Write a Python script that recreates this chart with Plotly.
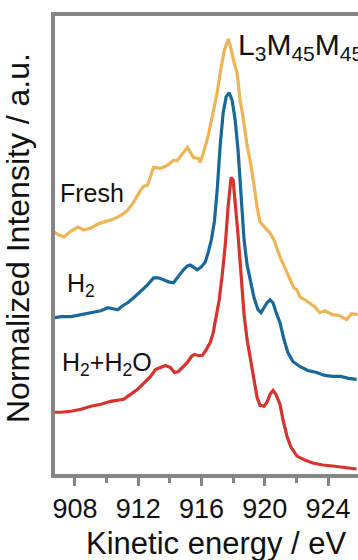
import plotly.graph_objects as go

# ---- data (kinetic energy in eV, normalized intensity, offset-stacked) ----
fresh_energy = [906.68, 906.99, 907.31, 907.75, 908.19, 908.57, 909.01, 909.45, 909.82, 910.26,
                910.70, 911.02, 911.33, 911.71, 912.15, 912.34, 912.59, 912.97, 913.41, 913.85,
                914.23, 914.48, 914.86, 915.11, 915.48, 915.80, 915.92, 916.11, 916.43, 916.74,
                916.99, 917.18, 917.43, 917.69, 917.87, 918.06, 918.25, 918.44, 918.63, 918.88,
                919.07, 919.32, 919.51, 919.70, 919.89, 920.14, 920.33, 920.58, 920.96, 921.27,
                921.58, 921.84, 922.03, 922.21, 922.53, 922.84, 923.16, 923.47, 923.79, 924.29,
                924.73, 925.17, 925.48, 925.86]
fresh_intensity = [2.47, 2.44, 2.42, 2.48, 2.52, 2.49, 2.51, 2.55, 2.57, 2.59,
                   2.62, 2.65, 2.69, 2.77, 2.89, 2.93, 2.94, 3.12, 3.11, 3.14,
                   3.19, 3.19, 3.27, 3.32, 3.22, 3.21, 3.17, 3.26, 3.44, 3.67,
                   3.87, 4.07, 4.29, 4.41, 4.31, 4.17, 4.07, 3.79, 3.62, 3.34,
                   3.19, 2.94, 2.72, 2.57, 2.54, 2.49, 2.46, 2.39, 2.22, 2.11,
                   1.99, 1.91, 1.89, 1.82, 1.79, 1.76, 1.72, 1.66, 1.68, 1.64,
                   1.63, 1.59, 1.65, 1.64]

h2_energy = [906.68, 907.12, 907.75, 908.38, 909.01, 909.64, 910.08, 910.39, 910.70, 911.02,
             911.33, 911.71, 912.15, 912.59, 912.97, 913.28, 913.60, 913.91, 914.23, 914.54,
             914.86, 915.11, 915.30, 915.55, 915.74, 915.99, 916.24, 916.43, 916.62, 916.81,
             916.99, 917.18, 917.37, 917.56, 917.75, 917.94, 918.13, 918.31, 918.50, 918.69,
             918.88, 919.07, 919.32, 919.57, 919.76, 919.95, 920.14, 920.33, 920.52, 920.70,
             920.96, 921.21, 921.46, 921.77, 922.21, 922.72, 923.28, 923.79, 924.29, 924.79,
             925.30, 925.80]
h2_intensity = [1.61, 1.62, 1.62, 1.64, 1.66, 1.68, 1.71, 1.70, 1.69, 1.73,
                1.76, 1.81, 1.87, 1.94, 2.01, 2.01, 1.99, 1.97, 1.96, 2.03,
                2.09, 2.13, 2.14, 2.11, 2.09, 2.12, 2.17, 2.27, 2.39, 2.57,
                2.89, 3.34, 3.67, 3.83, 3.87, 3.79, 3.59, 3.29, 2.79, 2.39,
                2.14, 1.99, 1.81, 1.69, 1.66, 1.71, 1.76, 1.79, 1.76, 1.67,
                1.56, 1.39, 1.26, 1.17, 1.12, 1.08, 1.06, 1.03, 1.02, 1.02,
                1.00, 0.99]

h2h2o_energy = [906.68, 907.12, 907.75, 908.38, 909.01, 909.64, 910.26, 910.70, 911.08, 911.52,
                911.96, 912.34, 912.78, 913.09, 913.41, 913.72, 914.04, 914.29, 914.54, 914.86,
                915.11, 915.36, 915.55, 915.80, 916.05, 916.30, 916.55, 916.74, 916.93, 917.12,
                917.31, 917.50, 917.69, 917.87, 918.00, 918.19, 918.31, 918.50, 918.69, 918.88,
                919.07, 919.26, 919.51, 919.70, 919.95, 920.14, 920.33, 920.52, 920.70, 920.96,
                921.14, 921.40, 921.65, 922.03, 922.53, 923.03, 923.66, 924.29, 924.92, 925.80]
h2h2o_intensity = [0.66, 0.66, 0.67, 0.69, 0.72, 0.74, 0.77, 0.78, 0.79, 0.84,
                   0.89, 0.95, 1.02, 1.09, 1.11, 1.13, 1.11, 1.06, 1.07, 1.12,
                   1.16, 1.22, 1.24, 1.23, 1.23, 1.29, 1.36, 1.46, 1.61, 1.79,
                   2.04, 2.34, 2.74, 3.02, 2.99, 2.69, 2.44, 2.04, 1.64, 1.39,
                   1.21, 1.02, 0.81, 0.73, 0.72, 0.76, 0.84, 0.88, 0.84, 0.74,
                   0.59, 0.42, 0.31, 0.22, 0.18, 0.15, 0.13, 0.12, 0.11, 0.09]

tick_values = [908, 912, 916, 920, 924]
tick_labels = ["908", "912", "916", "920", "924"]
minor_tick_values = [910, 914, 918, 922]

FONT = "Liberation Sans, Arial, sans-serif"
AXIS_GRAY = "#858585"
TEXT = "#111111"

W, H = 358, 560
ML, MR, MT, MB = 55, 0, 16, 86

fig = go.Figure()
fig.add_trace(go.Scatter(x=fresh_energy, y=fresh_intensity, mode="lines",
                         line=dict(color="#EDB458", width=3.2), name="Fresh"))
fig.add_trace(go.Scatter(x=h2_energy, y=h2_intensity, mode="lines",
                         line=dict(color="#1A6898", width=3.2), name="H2"))
fig.add_trace(go.Scatter(x=h2h2o_energy, y=h2h2o_intensity, mode="lines",
                         line=dict(color="#D7332E", width=3.2), name="H2+H2O"))

text_ann = dict(showarrow=False, font=dict(family=FONT, size=25, color=TEXT),
                xref="x", yref="y", xanchor="left", yanchor="middle")
fig.add_annotation(text="Fresh", x=906.92, y=2.86, **text_ann)
fig.add_annotation(text="H<sub>2</sub>", x=907.40, y=1.94, **text_ann)
fig.add_annotation(text="H<sub>2</sub>+H<sub>2</sub>O", x=907.03, y=1.14, **text_ann)
fig.add_annotation(text="L<sub>3</sub>M<sub>45</sub>M<sub>45</sub>", x=918.15, y=4.33,
                   showarrow=False, font=dict(family=FONT, size=30, color=TEXT),
                   xref="x", yref="y", xanchor="left", yanchor="middle")


def px_to_paper(px, py):
    return (px - ML) / (W - ML - MR), (H - MB - py) / (H - MT - MB)


yx, yy = px_to_paper(18, 238)
fig.add_annotation(text="Normalized Intensity / a.u.", textangle=-90,
                   x=yx, y=yy, xref="paper", yref="paper", showarrow=False,
                   xanchor="center", yanchor="middle",
                   font=dict(family=FONT, size=32, color=TEXT))
tx, ty = px_to_paper(216, 543)
fig.add_annotation(text="Kinetic energy / eV", x=tx, y=ty, xref="paper", yref="paper",
                   showarrow=False, xanchor="center", yanchor="middle",
                   font=dict(family=FONT, size=31, color=TEXT))

fig.update_layout(
    width=W, height=H,
    margin=dict(l=ML, r=MR, t=MT, b=MB),
    paper_bgcolor="white", plot_bgcolor="white",
    showlegend=False,
)
fig.update_xaxes(
    range=[906.74, 925.89],
    tickmode="array", tickvals=tick_values, ticktext=tick_labels,
    ticks="outside", ticklen=8, tickwidth=3, tickcolor=AXIS_GRAY,
    minor=dict(ticks="outside", ticklen=5, tickwidth=3, tickcolor=AXIS_GRAY,
               tickmode="array", tickvals=minor_tick_values, showgrid=False),
    tickfont=dict(family=FONT, size=27, color=TEXT),
    showline=True, linecolor=AXIS_GRAY, linewidth=4, mirror=True,
    showgrid=False, zeroline=False,
)
fig.update_yaxes(
    range=[0.04, 4.64],
    showticklabels=False, ticks="",
    showline=True, linecolor=AXIS_GRAY, linewidth=4, mirror=False,
    showgrid=False, zeroline=False,
)

fig.write_html("out.html")
